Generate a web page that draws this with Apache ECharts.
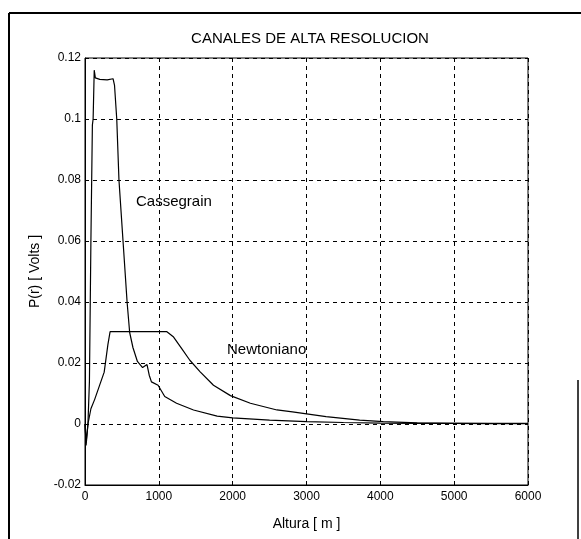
<!DOCTYPE html>
<html>
<head>
<meta charset="utf-8">
<script src="https://cdn.jsdelivr.net/npm/echarts@6/dist/echarts.min.js"></script>
<style>
html,body{margin:0;padding:0;background:#fff;}
#chart{width:581px;height:539px;}
</style>
</head>
<body>
<div id="chart"></div>
<script>
var chartTitle = 'CANALES DE ALTA RESOLUCION';
var xLabel = 'Altura [ m ]';
var yLabel = 'P(r) [ Volts ]';

var cassAltura = [0, 15, 40, 60, 80, 100, 110, 125, 140, 200, 300, 380, 400, 430, 460, 515, 570, 605, 650, 710, 780, 840, 870, 900, 990, 1080, 1240, 1470, 1790, 2000, 2500, 3000, 3500, 4000, 4500, 5000, 5500, 6000];
var cassValues = [0.0, -0.007, 0.0, 0.014, 0.06, 0.098, 0.1, 0.116, 0.1135, 0.113, 0.1128, 0.1132, 0.111, 0.1, 0.08, 0.06, 0.04, 0.030, 0.025, 0.0205, 0.0185, 0.0195, 0.016, 0.0138, 0.0127, 0.009, 0.0068, 0.0046, 0.0026, 0.002, 0.0013, 0.0008, 0.0005, 0.0003, 0.0002, 0.0002, 0.0001, 0.0002];

var newtAltura = [0, 15, 40, 80, 130, 195, 260, 310, 340, 600, 900, 1105, 1200, 1310, 1420, 1560, 1740, 1970, 2240, 2600, 2810, 3265, 3720, 4040, 4500, 5000, 5500, 6000];
var newtValues = [0.0, -0.006, 0.0, 0.005, 0.008, 0.0125, 0.017, 0.026, 0.0303, 0.0303, 0.0303, 0.0303, 0.0285, 0.0247, 0.0209, 0.0171, 0.0127, 0.0093, 0.0068, 0.0046, 0.0040, 0.0024, 0.0013, 0.0008, 0.0004, 0.0002, 0.0002, 0.0001];

var xTicks = {min: 0, max: 6000, interval: 1000};
var yTicks = {min: -0.02, max: 0.12, interval: 0.02};

function pairs(xs, ys){ return xs.map(function(x,i){return [x, ys[i]];}); }

var FONT = "'Liberation Sans', Arial, sans-serif";
var chart = echarts.init(document.getElementById('chart'), null, {renderer:'canvas'});
chart.setOption({
  backgroundColor: '#fff',
  animation: false,
  title: {
    text: chartTitle,
    left: 305, top: 26, textAlign: 'center',
    textStyle: {fontFamily: FONT, fontSize: 15, fontWeight: 'normal', color: '#000'}
  },
  grid: {left: 85, right: 53, top: 58, bottom: 54, show: true, borderColor: '#000', borderWidth: 1},
  xAxis: {
    type: 'value', min: xTicks.min, max: xTicks.max, interval: xTicks.interval,
    name: xLabel, nameLocation: 'middle', nameGap: 32,
    nameTextStyle: {fontFamily: FONT, fontSize: 14, color: '#000'},
    axisLine: {onZero: false, lineStyle: {color: '#000'}},
    axisTick: {inside: true, length: 4, lineStyle: {color: '#000'}},
    axisLabel: {fontFamily: FONT, fontSize: 12, color: '#000', margin: 6,
      formatter: function(v){ return String(v); }},
    splitLine: {show: true, lineStyle: {color: '#000', type: [4, 4], width: 1}}
  },
  yAxis: {
    type: 'value', min: yTicks.min, max: yTicks.max, interval: yTicks.interval,
    name: yLabel, nameLocation: 'middle', nameGap: 43,
    nameTextStyle: {fontFamily: FONT, fontSize: 14, color: '#000'},
    axisLine: {show: true, onZero: false, lineStyle: {color: '#000'}},
    axisTick: {show: true, inside: true, length: 4, lineStyle: {color: '#000'}},
    axisLabel: {fontFamily: FONT, fontSize: 12, color: '#000', margin: 4,
      formatter: function(v){ return String(parseFloat(v.toFixed(4))); }},
    splitLine: {show: true, lineStyle: {color: '#000', type: [4, 4], width: 1}}
  },
  series: [
    {name: 'Cassegrain', type: 'line', data: pairs(cassAltura, cassValues), showSymbol: false, symbol: 'none',
     lineStyle: {color: '#000', width: 1.2}},
    {name: 'Newtoniano', type: 'line', data: pairs(newtAltura, newtValues), showSymbol: false, symbol: 'none',
     lineStyle: {color: '#000', width: 1.2}}
  ],
  graphic: [
    {type: 'text', left: 136, top: 194, style: {text: 'Cassegrain', font: "15px 'Liberation Sans', Arial, sans-serif", fill: '#000'}},
    {type: 'text', left: 227, top: 342, style: {text: 'Newtoniano', font: "15px 'Liberation Sans', Arial, sans-serif", fill: '#000'}},
    {type: 'line', shape: {x1: 9, y1: 13, x2: 9, y2: 539}, style: {stroke: '#000', lineWidth: 2}},
    {type: 'line', shape: {x1: 9, y1: 13, x2: 581, y2: 13}, style: {stroke: '#000', lineWidth: 2}},
    {type: 'line', shape: {x1: 578, y1: 380, x2: 578, y2: 539}, style: {stroke: '#000', lineWidth: 1.5}}
  ]
});
</script>
</body>
</html>
